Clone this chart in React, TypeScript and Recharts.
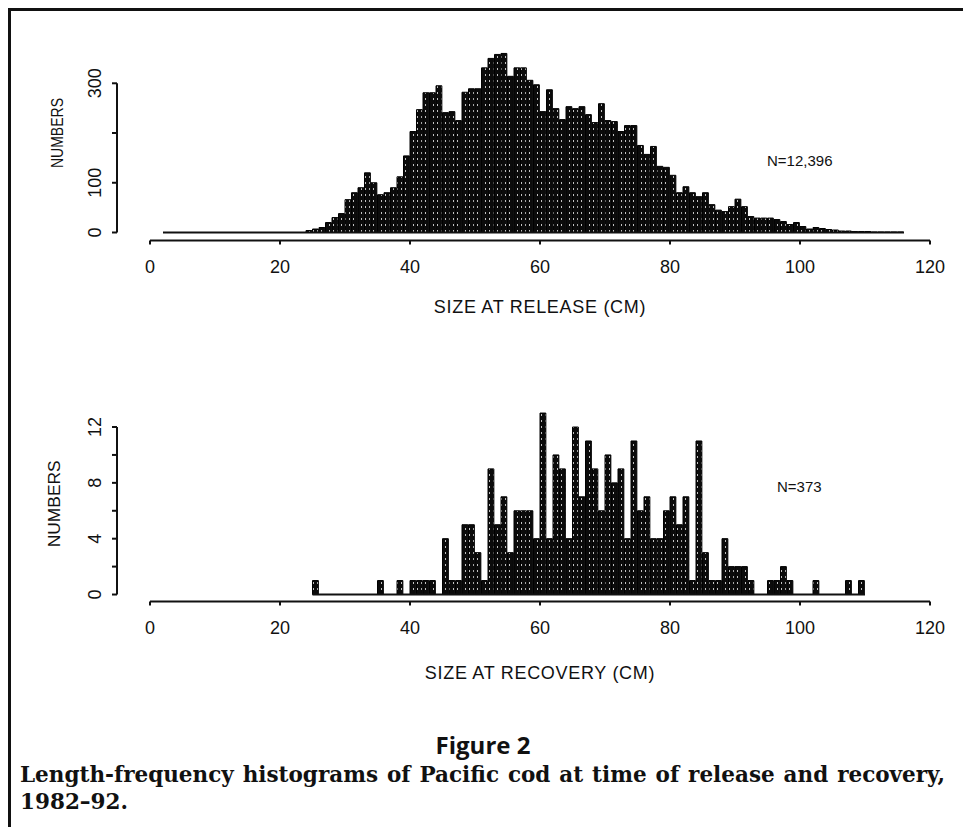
import React from 'react';
import { ComposedChart, Bar, XAxis, YAxis, ReferenceLine, Label } from 'recharts';

const SANS = '"Liberation Sans", Arial, Helvetica, sans-serif';

// ---------- data: size at release (1-cm bins, value = lower bound of bin) ----------
const releaseBins = [
  24, 25, 26, 27, 28, 29, 30, 31, 32, 33, 34, 35, 36, 37, 38, 39, 40, 41, 42, 43, 44, 45, 46,
  47, 48, 49, 50, 51, 52, 53, 54, 55, 56, 57, 58, 59, 60, 61, 62, 63, 64, 65, 66, 67, 68, 69,
  70, 71, 72, 73, 74, 75, 76, 77, 78, 79, 80, 81, 82, 83, 84, 85, 86, 87, 88, 89, 90, 91, 92,
  93, 94, 95, 96, 97, 98, 99, 100, 101, 102, 103, 104, 105, 106, 107, 108, 109, 110, 111, 112,
  113, 114, 115,
];
const releaseCounts = [
  4, 7, 10, 20, 30, 38, 66, 80, 90, 120, 100, 76, 80, 90, 112, 154, 203, 247, 281, 281, 295, 241, 243,
  225, 282, 289, 289, 331, 350, 358, 360, 314, 331, 331, 306, 297, 243, 287, 249, 227, 253, 249, 253, 237, 221, 259,
  225, 223, 203, 215, 215, 175, 157, 173, 133, 131, 115, 80, 92, 80, 72, 80, 56, 45, 42, 52, 67, 52, 32,
  29, 29, 29, 26, 22, 16, 20, 12, 7, 10, 8, 6, 5, 3, 3, 2, 2, 2, 1, 1,
  1, 1, 1,
];

// ---------- data: size at recovery ----------
const recoveryBins = [
  25, 35, 38, 40, 41, 42, 43, 45, 46, 47, 48, 49, 50, 51, 52, 53, 54, 55, 56, 57, 58, 59,
  60, 61, 62, 63, 64, 65, 66, 67, 68, 69, 70, 71, 72, 73, 74, 75, 76, 77, 78, 79,
  80, 81, 82, 83, 84, 85, 86, 87, 88, 89, 90, 91, 92, 95, 96, 97, 98, 102, 107, 109,
];
const recoveryCounts = [
  1, 1, 1, 1, 1, 1, 1, 4, 1, 1, 5, 5, 3, 1, 9, 5, 7, 3, 6, 6, 6, 4,
  13, 4, 10, 9, 4, 12, 7, 11, 9, 6, 10, 8, 9, 4, 11, 6, 7, 4, 4, 6,
  7, 5, 7, 1, 11, 3, 1, 1, 4, 2, 2, 2, 1, 1, 1, 2, 1, 1, 1, 1,
];

const xTicks = [0, 20, 40, 60, 80, 100, 120];
const releaseYTicks = [0, 100, 200, 300];
const releaseYLabels = [0, 100, 300];
const recoveryYTicks = [0, 2, 4, 6, 8, 10, 12];
const recoveryYLabels = [0, 4, 8, 12];

const X_MIN = -5.077;
const X_MAX = 120;

type PanelProps = {
  bins: number[];
  counts: number[];
  yTicks: number[];
  yLabels: number[];
  yDomain: [number, number];
  yAxisTopValue: number;
  numbersCenterValue: number;
  numbersX: number;
  numbersLen: number;
  title: string;
  titleDy: number;
  baseFrom: number;
  baseTo: number;
  height: number;
  marginTop: number;
  marginBottom: number;
  patternId: string;
};

function Panel(p: PanelProps) {
  const data = p.bins.map((b, i) => ({ mid: b + 0.5, count: p.counts[i] }));
  const [yMin, yMax] = p.yDomain;

  const YTick = (props: any) => {
    const { x, y, payload } = props;
    if (!p.yLabels.includes(payload.value)) return <g />;
    return (
      <text
        x={x}
        y={y}
        transform={`rotate(-90 ${x} ${y})`}
        textAnchor="middle"
        dominantBaseline="central"
        fontSize={18}
        fontFamily={SANS}
        fill="#111"
      >
        {payload.value}
      </text>
    );
  };

  const xTitle = (props: any) => {
    const vb = props.viewBox || { x: 117, y: 0, width: 813, height: 80 };
    const cx = vb.x + (vb.width * (60 - X_MIN)) / (X_MAX - X_MIN);
    return (
      <text
        x={cx}
        y={vb.y + p.titleDy}
        textAnchor="middle"
        dominantBaseline="central"
        fontSize={18}
        letterSpacing={0.7}
        fontFamily={SANS}
        fill="#111"
      >
        {p.title}
      </text>
    );
  };

  const yTitle = (props: any) => {
    const vb = props.viewBox || { x: 17, y: 0, width: 100, height: 200 };
    const cy = vb.y + (vb.height * (yMax - p.numbersCenterValue)) / (yMax - yMin);
    const cx = vb.x + p.numbersX;
    return (
      <text
        x={cx}
        y={cy}
        transform={`rotate(-90 ${cx} ${cy})`}
        textAnchor="middle"
        dominantBaseline="central"
        fontSize={17}
        textLength={p.numbersLen}
        lengthAdjust="spacingAndGlyphs"
        fontFamily={SANS}
        fill="#111"
      >
        NUMBERS
      </text>
    );
  };

  return (
    <ComposedChart
      width={963}
      height={p.height}
      data={data}
      margin={{ top: p.marginTop, right: 33, bottom: p.marginBottom, left: 17 }}
    >
      <defs>
        <pattern id={p.patternId} width="4" height="6" patternUnits="userSpaceOnUse">
          <rect width="4" height="6" fill="#0b0b0b" />
          <rect x="1" y="2" width="1" height="2" fill="#ffffff" opacity="0.75" />
        </pattern>
      </defs>
      <XAxis
        dataKey="mid"
        type="number"
        domain={[X_MIN, X_MAX]}
        ticks={xTicks}
        axisLine={false}
        tickLine={{ stroke: '#111', strokeWidth: 2 }}
        tickSize={4}
        tickMargin={16}
        tick={{ fontSize: 18, fill: '#111', fontFamily: SANS }}
        height={80}
        interval={0}
        allowDecimals={false}
      >
        <Label content={xTitle} />
      </XAxis>
      <YAxis
        type="number"
        domain={p.yDomain}
        ticks={p.yTicks}
        axisLine={false}
        tickLine={{ stroke: '#111', strokeWidth: 2 }}
        tickSize={5}
        tickMargin={17}
        tick={YTick}
        width={100}
        interval={0}
      >
        <Label content={yTitle} />
      </YAxis>
      <ReferenceLine
        segment={[
          { x: 0, y: yMin },
          { x: 120, y: yMin },
        ]}
        stroke="#111"
        strokeWidth={2}
        ifOverflow="visible"
      />
      <ReferenceLine
        segment={[
          { x: X_MIN, y: 0 },
          { x: X_MIN, y: p.yAxisTopValue },
        ]}
        stroke="#111"
        strokeWidth={2}
        ifOverflow="visible"
      />
      <ReferenceLine
        segment={[
          { x: p.baseFrom, y: 0 },
          { x: p.baseTo, y: 0 },
        ]}
        stroke="#111"
        strokeWidth={2}
        ifOverflow="visible"
      />
      <Bar
        dataKey="count"
        fill={`url(#${p.patternId})`}
        stroke="#000"
        strokeWidth={1}
        barSize={6.5}
        isAnimationActive={false}
      />
    </ComposedChart>
  );
}

export default function App() {
  return (
    <div
      style={{
        position: 'absolute',
        left: 0,
        top: 0,
        width: 963,
        height: 827,
        background: '#fff',
        overflow: 'hidden',
      }}
    >
      <div style={{ position: 'absolute', left: 8, top: 8, width: 955, height: 3, background: '#111' }} />
      <div style={{ position: 'absolute', left: 8, top: 8, width: 3, height: 819, background: '#111' }} />

      <div style={{ position: 'absolute', left: 0, top: 0 }}>
        <Panel
          bins={releaseBins}
          counts={releaseCounts}
          yTicks={releaseYTicks}
          yLabels={releaseYLabels}
          yDomain={[-16.1, 380]}
          yAxisTopValue={300}
          numbersCenterValue={200}
          numbersX={41}
          numbersLen={70}
          title="SIZE AT RELEASE (CM)"
          titleDy={66.5}
          baseFrom={2}
          baseTo={116}
          height={340}
          marginTop={43.5}
          marginBottom={19.5}
          patternId="speckleA"
        />
      </div>
      <div style={{ position: 'absolute', left: 0, top: 340 }}>
        <Panel
          bins={recoveryBins}
          counts={recoveryCounts}
          yTicks={recoveryYTicks}
          yLabels={recoveryYLabels}
          yDomain={[-0.5, 14]}
          yAxisTopValue={12}
          numbersCenterValue={6.5}
          numbersX={38}
          numbersLen={87}
          title="SIZE AT RECOVERY (CM)"
          titleDy={71.5}
          baseFrom={25}
          baseTo={110}
          height={360}
          marginTop={59.1}
          marginBottom={18.5}
          patternId="speckleB"
        />
      </div>

      <div
        style={{
          position: 'absolute',
          left: 767,
          top: 152,
          fontFamily: SANS,
          fontSize: 15,
          lineHeight: '18px',
          color: '#111',
          whiteSpace: 'nowrap',
        }}
      >
        N=12,396
      </div>
      <div
        style={{
          position: 'absolute',
          left: 777,
          top: 478,
          fontFamily: SANS,
          fontSize: 15,
          lineHeight: '18px',
          color: '#111',
          whiteSpace: 'nowrap',
        }}
      >
        N=373
      </div>

      <div
        style={{
          position: 'absolute',
          left: 0,
          width: 966,
          top: 729,
          textAlign: 'center',
          fontFamily: '"Open Sans", "Noto Sans", sans-serif',
          fontWeight: 700,
          fontSize: 24,
          lineHeight: '32px',
          color: '#111',
        }}
      >
        Figure 2
      </div>
      <div
        style={{
          position: 'absolute',
          left: 20,
          width: 925,
          top: 761,
          fontFamily: '"DejaVu Serif", "Liberation Serif", serif',
          fontWeight: 700,
          fontSize: 21.5,
          lineHeight: '27px',
          color: '#111',
          textAlign: 'justify',
          textAlignLast: 'justify' as any,
          whiteSpace: 'nowrap',
        }}
      >
        Length-frequency histograms of Pacific cod at time of release and recovery,
      </div>
      <div
        style={{
          position: 'absolute',
          left: 20,
          top: 788,
          fontFamily: '"DejaVu Serif", "Liberation Serif", serif',
          fontWeight: 700,
          fontSize: 21.5,
          lineHeight: '27px',
          color: '#111',
          whiteSpace: 'nowrap',
        }}
      >
        1982–92.
      </div>
    </div>
  );
}
